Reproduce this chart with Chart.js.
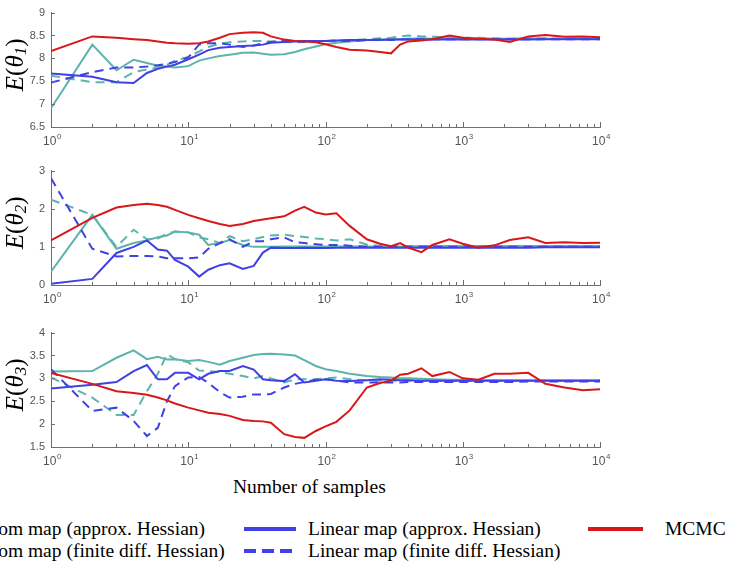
<!DOCTYPE html>
<html>
<head>
<meta charset="utf-8">
<script src="https://cdn.jsdelivr.net/npm/chart.js@4.4.0/dist/chart.umd.min.js"></script>
<style>
  body { margin: 0; background: #fff; width: 732px; height: 562px; overflow: hidden; position: relative; font-family: "Liberation Serif", "Times New Roman", serif; color: #000; }
  .panel { position: absolute; left: 0; width: 732px; height: 155px; }
  .xtitle { position: absolute; left: 233px; top: 476px; font-size: 19.5px; white-space: nowrap; }
  .leg { position: absolute; font-size: 19.5px; white-space: nowrap; line-height: 22px; }
  .swatch { position: absolute; height: 4px; width: 52px; }
</style>
</head>
<body>
<div class="panel" style="top:0"><canvas id="c1" width="732" height="155"></canvas></div>
<div class="panel" style="top:158px"><canvas id="c2" width="732" height="155"></canvas></div>
<div class="panel" style="top:320px"><canvas id="c3" width="732" height="155"></canvas></div>

<div class="xtitle">Number of samples</div>

<!-- legend -->
<div class="swatch" style="left:-112px; top:527px; background:#5cb4aa"></div>
<div class="leg" style="left:-43px; top:518px">Random map (approx. Hessian)</div>
<div class="swatch" style="left:-112px; top:549px; background:repeating-linear-gradient(to right,#5cb4aa 0 12px,transparent 12px 18px)"></div>
<div class="leg" style="left:-43px; top:540px">Random map (finite diff. Hessian)</div>

<div class="swatch" style="left:244px; top:527px; background:#4040e6"></div>
<div class="leg" style="left:308px; top:518px">Linear map (approx. Hessian)</div>
<div class="swatch" style="left:244px; top:549px; width:48px; background:repeating-linear-gradient(to right,#4040e6 0 12px,transparent 12px 18px)"></div>
<div class="leg" style="left:308px; top:540px">Linear map (finite diff. Hessian)</div>

<div class="swatch" style="left:588px; top:527px; width:55px; background:#d81818"></div>
<div class="leg" style="left:665px; top:518px">MCMC</div>

<script>
// sample counts (x) shared by all curves
const samples = [1,2,3,4,5,6,7,8,10,12,14,17,20,25,30,35,40,50,60,70,85,100,120,150,200,250,300,350,400,500,600,800,1000,1300,1700,2200,3000,4000,5500,7500,10000];
const xTicks = [1, 10, 100, 1000, 10000];

// E(theta_1)
const yTicks1 = [6.5, 7, 7.5, 8, 8.5, 9];
const randApprox1 = [6.91,8.30,7.74,7.97,7.90,7.84,7.82,7.80,7.83,7.95, 8.00,8.05,8.08,8.12,8.13,8.10,8.08,8.09,8.14,8.20, 8.26,8.31,8.34,8.37,8.40,8.41,8.42,8.42,8.43,8.44, 8.43,8.44,8.43,8.44,8.43,8.43,8.44,8.43,8.43,8.43, 8.43];
const randFd1 = [7.62,7.48,7.48,7.70,7.76,7.80,7.86,7.95,8.03,8.15, 8.25,8.32,8.35,8.37,8.38,8.38,8.37,8.36,8.35,8.36, 8.38,8.38,8.38,8.40,8.42,8.44,8.45,8.48,8.50,8.48, 8.47,8.46,8.45,8.45,8.44,8.43,8.44,8.44,8.43,8.43, 8.43];
const linApprox1 = [7.67,7.60,7.48,7.46,7.68,7.77,7.82,7.86,7.98,8.08, 8.18,8.23,8.25,8.27,8.28,8.30,8.34,8.36,8.37,8.38, 8.38,8.38,8.39,8.40,8.40,8.40,8.41,8.41,8.41,8.41, 8.41,8.42,8.41,8.42,8.41,8.42,8.41,8.42,8.42,8.42, 8.42];
const linFd1 = [7.47,7.70,7.80,7.80,7.82,7.85,7.88,7.92,8.02,8.30, 8.33,8.33,8.30,8.25,8.28,8.33,8.36,8.38,8.38,8.36, 8.37,8.38,8.39,8.38,8.40,8.41,8.40,8.41,8.42,8.42, 8.42,8.42,8.42,8.42,8.42,8.42,8.42,8.42,8.42,8.42, 8.42];
const mcmc1 = [8.16,8.48,8.45,8.42,8.40,8.37,8.34,8.33,8.32,8.33, 8.37,8.45,8.53,8.56,8.57,8.56,8.48,8.41,8.38,8.37, 8.35,8.31,8.25,8.19,8.17,8.14,8.11,8.30,8.37,8.39, 8.42,8.50,8.45,8.43,8.41,8.36,8.48,8.51,8.47,8.48, 8.46];

// E(theta_2)
const yTicks2 = [0, 1, 2, 3];
const randApprox2 = [0.35,1.84,0.95,1.10,1.17,1.25,1.30,1.40,1.38,1.32, 1.05,1.10,1.18,1.05,1.00,1.00,1.00,1.01,1.01,1.01, 1.01,1.01,1.01,1.01,1.01,1.01,1.01,1.01,1.01,1.02, 1.02,1.02,1.02,1.02,1.02,1.02,1.02,1.02,1.02,1.02, 1.02];
const randFd2 = [2.24,1.84,1.00,1.45,1.20,1.22,1.35,1.40,1.38,1.25, 1.20,1.10,1.28,1.15,1.20,1.26,1.30,1.32,1.28,1.26, 1.22,1.20,1.17,1.20,1.06,1.03,1.02,1.02,1.02,1.02, 1.02,1.02,1.02,1.02,1.02,1.02,1.02,1.02,1.02,1.02, 1.02];
const linApprox2 = [0.03,0.16,0.84,1.00,1.17,0.93,0.90,0.66,0.48,0.22, 0.40,0.52,0.57,0.42,0.50,0.85,0.98,0.97,0.97,0.98, 0.97,0.97,0.98,0.98,0.98,0.98,0.98,0.98,0.98,0.98, 0.98,0.98,0.98,0.98,0.98,0.98,0.98,0.99,0.99,0.99, 0.99];
const linFd2 = [2.80,0.95,0.75,0.76,0.76,0.75,0.70,0.70,0.70,0.72, 0.95,1.10,1.20,1.00,1.15,1.15,1.20,1.25,1.12,1.10, 1.07,1.05,1.05,1.03,1.00,1.00,1.00,1.00,1.00,1.00, 1.00,1.00,1.00,1.00,1.00,1.00,1.00,1.00,1.00,1.00, 1.00];
const mcmc2 = [1.17,1.76,2.03,2.10,2.13,2.10,2.05,1.97,1.84,1.75, 1.68,1.60,1.55,1.60,1.68,1.72,1.75,1.80,1.95,2.05, 1.90,1.85,1.88,1.55,1.20,1.08,1.02,1.10,0.98,0.86, 1.05,1.20,1.08,0.98,1.04,1.18,1.25,1.10,1.12,1.10, 1.11];

// E(theta_3)
const yTicks3 = [1.5, 2, 2.5, 3, 3.5, 4];
const randApprox3 = [3.15,3.16,3.45,3.61,3.42,3.47,3.41,3.42,3.38,3.40, 3.36,3.30,3.38,3.45,3.51,3.53,3.54,3.52,3.50,3.40, 3.27,3.20,3.16,3.10,3.05,3.03,3.02,3.00,3.00,2.99, 2.98,2.97,2.97,2.96,2.96,2.96,2.96,2.96,2.96,2.96, 2.96];
const randFd3 = [3.02,2.58,2.20,2.20,2.72,3.10,3.53,3.42,3.35,3.17, 3.16,3.14,3.10,3.05,3.00,3.05,3.00,2.91,2.98,2.98, 2.98,3.00,3.02,2.98,2.96,2.95,2.95,2.95,2.95,2.95, 2.95,2.95,2.95,2.95,2.95,2.95,2.95,2.95,2.95,2.95, 2.95];
const linApprox3 = [2.78,2.86,2.92,3.16,3.29,2.98,2.98,3.12,3.12,2.98, 3.10,3.16,3.16,3.27,3.19,2.98,2.96,2.94,3.09,2.91, 2.95,2.98,2.95,2.94,2.96,2.98,2.97,2.96,2.96,2.95, 2.95,2.95,2.95,2.95,2.95,2.95,2.95,2.95,2.95,2.95, 2.95];
const linFd3 = [3.20,2.29,2.36,2.07,1.74,1.92,2.50,2.83,3.02,3.03, 2.90,2.70,2.58,2.60,2.65,2.65,2.66,2.80,2.88,2.92, 2.97,2.98,2.95,2.91,2.91,2.91,2.91,2.91,2.92,2.92, 2.92,2.92,2.92,2.92,2.92,2.92,2.93,2.93,2.93,2.93, 2.93];
const mcmc3 = [3.12,2.88,2.72,2.68,2.64,2.58,2.52,2.45,2.36,2.30, 2.25,2.22,2.18,2.09,2.07,2.06,2.03,1.78,1.72,1.70, 1.85,1.95,2.05,2.30,2.80,2.90,2.95,3.08,3.10,3.22, 3.05,3.14,3.00,2.97,3.10,3.10,3.12,2.88,2.80,2.74, 2.76];

const teal = '#5cb4aa';
const blue = '#4040e6';
const red = '#d81818';
const axisColor = '#6e6e6e';
const labelColor = '#555';

// tick marks point into the plot, like the original figure
const inwardTicks = {
    id: 'inwardTicks',
    afterDraw(chart) {
        const ctx = chart.ctx;
        const a = chart.chartArea;
        const x = chart.scales.x, y = chart.scales.y;
        ctx.save();
        ctx.strokeStyle = axisColor;
        ctx.lineWidth = 1;
        ctx.beginPath();
        for (let e = 0; e <= 4; e++) {
            for (let m = 1; m <= 9; m++) {
                const v = m * Math.pow(10, e);
                if (v > 10000) break;
                const px = Math.round(x.getPixelForValue(v)) + 0.5;
                ctx.moveTo(px, a.bottom);
                ctx.lineTo(px, a.bottom - (m === 1 ? 5 : 3));
            }
        }
        y.ticks.forEach(function (t) {
            const py = Math.round(y.getPixelForValue(t.value)) + 0.5;
            ctx.moveTo(a.left, py);
            ctx.lineTo(a.left + 4, py);
        });
        ctx.stroke();

        // 10^k labels
        ctx.fillStyle = labelColor;
        ctx.textBaseline = 'alphabetic';
        xTicks.forEach(function (v) {
            const px = x.getPixelForValue(v);
            const exp = String(Math.round(Math.log10(v)));
            ctx.font = '12px "Liberation Sans", Arial, sans-serif';
            const w1 = ctx.measureText('10').width;
            ctx.font = '8px "Liberation Sans", Arial, sans-serif';
            const w2 = ctx.measureText(exp).width;
            const left = px - (w1 + w2) / 2 + 1;
            ctx.font = '12px "Liberation Sans", Arial, sans-serif';
            ctx.fillText('10', left, a.bottom + 18);
            ctx.font = '8px "Liberation Sans", Arial, sans-serif';
            ctx.fillText(exp, left + w1 + 0.5, a.bottom + 12);
        });
        ctx.restore();
    }
};

// rotated E(theta_k) axis title
const yTitle = {
    id: 'yTitle',
    afterDraw(chart, args, opts) {
        const ctx = chart.ctx;
        const a = chart.chartArea;
        const serif = '"Liberation Serif", "Times New Roman", serif';
        const parts = [
            ['E', 'italic 25px ' + serif, 0],
            ['(', '25px ' + serif, 0],
            ['\u03B8', 'italic 25px ' + serif, 0],
            [opts.sub, 'italic 17px ' + serif, 6],
            [')', '25px ' + serif, 0]
        ];
        ctx.save();
        ctx.translate(16, (a.top + a.bottom) / 2 - 5);
        ctx.rotate(-Math.PI / 2);
        ctx.fillStyle = '#000';
        ctx.textBaseline = 'middle';
        let total = 0;
        parts.forEach(function (p) { ctx.font = p[1]; total += ctx.measureText(p[0]).width; });
        let pos = -total / 2;
        parts.forEach(function (p) {
            ctx.font = p[1];
            ctx.fillText(p[0], pos, p[2]);
            pos += ctx.measureText(p[0]).width;
        });
        ctx.restore();
    }
};

function series(values, color, dashed, order) {
    return {
        data: samples.map(function (n, i) { return { x: n, y: values[i] }; }),
        borderColor: color,
        borderWidth: 2,
        borderDash: dashed ? [9, 6] : [],
        pointRadius: 0,
        tension: 0,
        fill: false,
        order: order
    };
}

function makePanel(id, yTicks, sub, randApprox, randFd, linApprox, linFd, mcmc) {
    const ctx = document.getElementById(id).getContext('2d');
    return new Chart(ctx, {
        type: 'line',
        data: {
            datasets: [
                series(mcmc, red, false, 1),
                series(linFd, blue, true, 2),
                series(linApprox, blue, false, 3),
                series(randFd, teal, true, 4),
                series(randApprox, teal, false, 5)
            ]
        },
        options: {
            responsive: false,
            animation: false,
            layout: { padding: { top: 12, right: 132, left: 0, bottom: 0 } },
            plugins: { legend: { display: false }, tooltip: { enabled: false }, yTitle: { sub: sub } },
            scales: {
                x: {
                    type: 'logarithmic',
                    min: 1,
                    max: 10000,
                    afterBuildTicks: function (s) { s.ticks = xTicks.map(function (v) { return { value: v }; }); },
                    afterFit: function (s) { s.height = 28; },
                    grid: { display: false, drawTicks: false },
                    border: { color: axisColor, width: 1 },
                    ticks: { display: false }
                },
                y: {
                    type: 'linear',
                    min: yTicks[0],
                    max: yTicks[yTicks.length - 1],
                    afterBuildTicks: function (s) { s.ticks = yTicks.map(function (v) { return { value: v }; }); },
                    afterFit: function (s) { s.width = 51; },
                    grid: { display: false, drawTicks: false },
                    border: { color: axisColor, width: 1 },
                    ticks: {
                        padding: 6,
                        color: labelColor,
                        font: { family: '"Liberation Sans", Arial, sans-serif', size: 11 },
                        callback: function (v) { return String(v); }
                    }
                }
            }
        },
        plugins: [inwardTicks, yTitle]
    });
}

makePanel('c1', yTicks1, '1', randApprox1, randFd1, linApprox1, linFd1, mcmc1);
makePanel('c2', yTicks2, '2', randApprox2, randFd2, linApprox2, linFd2, mcmc2);
makePanel('c3', yTicks3, '3', randApprox3, randFd3, linApprox3, linFd3, mcmc3);
</script>
</body>
</html>
